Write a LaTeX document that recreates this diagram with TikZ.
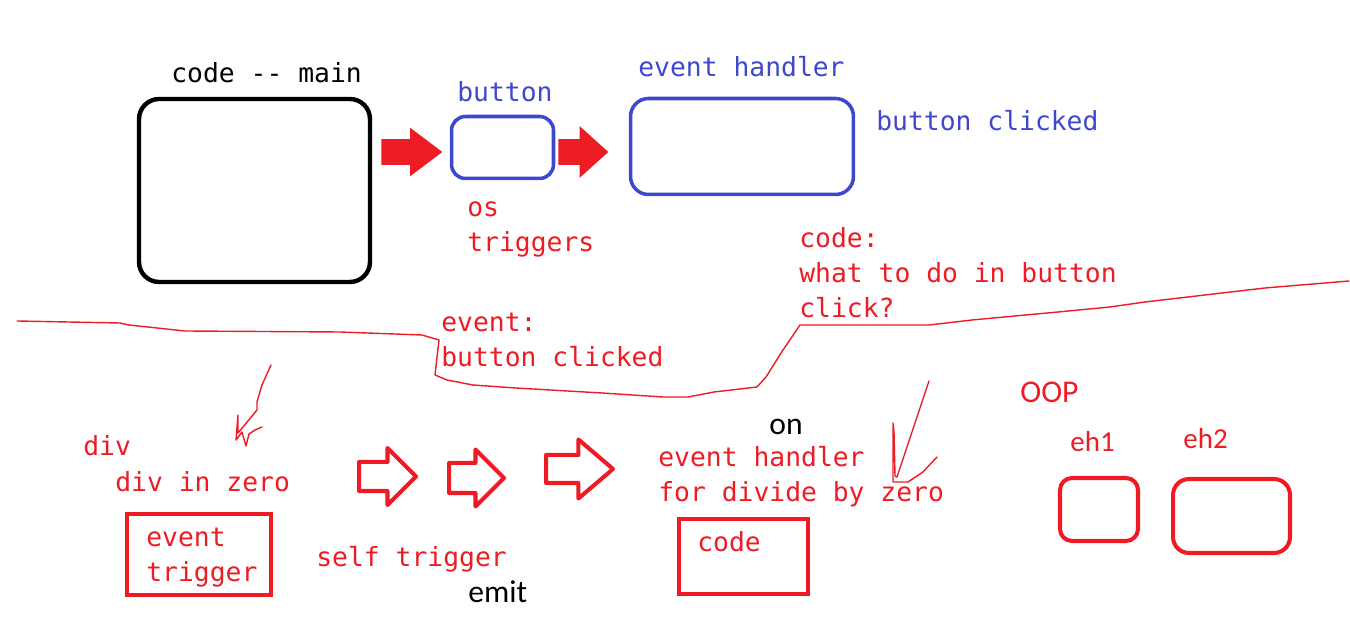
\documentclass[tikz,border=0pt]{standalone}
\usepackage{fontspec}
\setmonofont{DejaVu Sans Mono}
\newfontfamily\calfont{Carlito}
\usepackage{xcolor}
\usepackage{tikz}
\usetikzlibrary{shapes.arrows}
\definecolor{pen}{HTML}{ED1C24}
\definecolor{ink}{HTML}{3F48CC}

\begin{document}
\begin{tikzpicture}[
  x=0.02cm, y=-0.02cm,
  mono/.style={anchor=base west, inner sep=0, align=left,
    font=\ttfamily\fontsize{15}{20.1}\selectfont},
  hand/.style={anchor=base west, inner sep=0,
    font=\calfont\fontsize{18}{22}\selectfont},
  rbox/.style={draw=pen, line width=2.5pt, inner sep=0},
  bbox/.style={draw=ink, line width=2pt, inner sep=0},
  solidarr/.style={single arrow, fill=pen, inner sep=0, anchor=tail,
    text height=0.25cm, text depth=0.25cm},
  hollowarr/.style={single arrow, draw=pen, line width=2.3pt,
    line join=round, inner sep=0, anchor=tail},
  scrawl/.style={pen, line width=0.8pt, line join=round, line cap=round}
]
  \useasboundingbox (0,0) rectangle (1350,617);

  % top: main code, button, event handler
  \node[mono] (title) at (171,83) {code -{}- main};
  \node[draw=black, line width=2.5pt, rounded corners=0.4cm, inner sep=0,
    minimum width=4.62cm, minimum height=3.66cm] (main) at (254.5,190.5) {};
  \node[solidarr, minimum height=1.22cm, single arrow head extend=0.23cm,
    single arrow tip angle=74] (push1) at (381,152) {};
  \node[bbox, rounded corners=0.28cm, minimum width=2.04cm,
    minimum height=1.24cm] (button) at (502.5,147.5) {};
  \node[mono, ink] (buttonlbl) at (457,102) {button};
  \node[solidarr, minimum height=1.0cm, single arrow head extend=0.26cm,
    single arrow tip angle=84] (push2) at (558,152) {};
  \node[bbox, rounded corners=0.36cm, minimum width=4.46cm,
    minimum height=1.92cm] (handler) at (742,146.5) {};
  \node[mono, ink] (handlerlbl) at (638,77) {event handler};
  \node[mono, ink] (clicked) at (876,131) {button clicked};
  % multi-line texts sit on their last line
  \node[mono, pen] (os) at (467,252) {os\\triggers};
  \node[mono, pen] (todo) at (799,318) {code:\\what to do in button\\click?};
  \node[mono, pen] (evt) at (441,367) {event:\\button clicked};

  % divider
  \draw[scrawl] (17,321) -- (120,323) -- (129,325) -- (185,331) -- (340,332)
    -- (422,335) -- (439,340) -- (435,375) -- (447,380) -- (473,385)
    -- (516,388) -- (602,393) -- (663,397) -- (688,397) -- (714,392)
    -- (757,387) -- (766,377) -- (783,350) -- (800,325) -- (813,325)
    -- (929,325) -- (972,320) -- (1058,312) -- (1110,307) -- (1145,302)
    -- (1205,295) -- (1265,288) -- (1325,283) -- (1349,281);

  % bottom: divide by zero
  \draw[scrawl] (271,365) -- (262,385) -- (257,402) -- (257,410) -- (243,427)
    -- (238,433) -- (238,415) -- (236,440) -- (242,432) -- (246,446)
    -- (249,434) -- (255,430) -- (262,427);
  \node[mono, pen] (div) at (83,456) {div};
  \node[mono, pen] (divzero) at (115,492) {div in zero};
  \node[rbox, minimum width=2.88cm, minimum height=1.62cm] (trigger) at (199,554.5) {};
  \node[mono, pen] (triggerlbl) at (146,582) {event\\trigger};
  \node[hollowarr, minimum height=1.14cm, text height=0.25cm, text depth=0.25cm,
    single arrow head extend=0.28cm] (step1) at (357,476.5) {};
  \node[hollowarr, minimum height=1.1cm, text height=0.26cm, text depth=0.26cm,
    single arrow head extend=0.27cm] (step2) at (447,478) {};
  \node[hollowarr, minimum height=1.34cm, text height=0.24cm, text depth=0.24cm,
    single arrow head extend=0.31cm, single arrow tip angle=81] (step3) at (544,469) {};
  \node[mono, pen] (self) at (316,567) {self trigger};
  \node[hand] (emit) at (468,603) {emit};
  \node[hand] (on) at (769,435) {on};
  \node[mono, pen] (zerohandler) at (658,502) {event handler\\for divide by zero};
  \node[rbox, minimum width=2.58cm, minimum height=1.5cm] (codebox) at (743.5,556.5) {};
  \node[mono, pen] (codelbl) at (697,552) {code};
  \draw[scrawl] (929,381) -- (897,477) -- (895,476) -- (894,432) -- (893,423)
    -- (893,482) -- (908,482) -- (923,472) -- (937,457);

  % OOP
  \node[hand, pen] (oop) at (1020,403) {OOP};
  \node[hand, pen, font=\calfont\fontsize{16.5}{20}\selectfont] (eh1lbl) at (1070,452) {eh1};
  \node[hand, pen, font=\calfont\fontsize{16.5}{20}\selectfont] (eh2lbl) at (1183,449) {eh2};
  \node[rbox, line width=2.3pt, rounded corners=0.24cm, minimum width=1.56cm,
    minimum height=1.26cm] (eh1) at (1099,509.5) {};
  \node[rbox, line width=2.3pt, rounded corners=0.32cm, minimum width=2.34cm,
    minimum height=1.48cm] (eh2) at (1231.5,516) {};
\end{tikzpicture}
\end{document}
